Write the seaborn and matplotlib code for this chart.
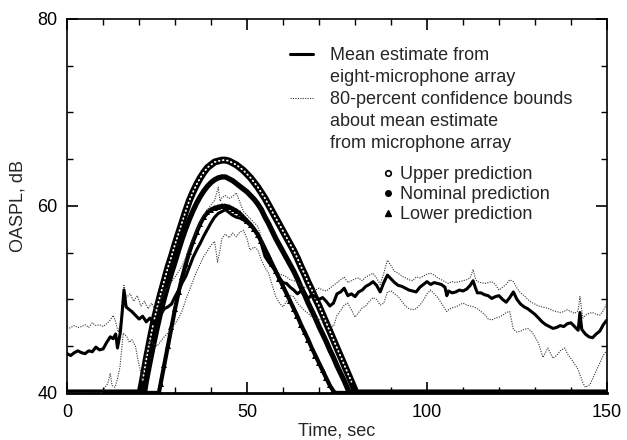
import numpy as np
import pandas as pd
import matplotlib
matplotlib.use('Agg')
import matplotlib.pyplot as plt
from matplotlib.lines import Line2D
from matplotlib.ticker import MultipleLocator
import seaborn as sns

sns.set_style("ticks")
plt.rcParams['font.family'] = ['Liberation Sans', 'DejaVu Sans']

# (time sec, OASPL dB)
mean_pts = [(0, 44.2), (1, 44.0), (2, 44.3), (3, 44.5), (4, 44.3), (5, 44.2), (6, 44.5), (7, 44.4),
            (8, 44.9), (9, 44.6), (10, 44.7), (11, 45.4), (12, 46.0), (12.8, 45.8), (13.5, 46.3),
            (14, 44.8), (14.8, 46.5), (15.3, 48.6), (15.8, 51.0), (16.4, 49.2), (17, 49.0), (18, 48.7),
            (19, 48.3), (20, 47.9), (21, 48.2), (22, 47.6), (23, 48.0), (24, 47.5), (25, 47.9),
            (26, 48.4), (27, 49.0), (28, 49.2), (29, 49.5), (30, 50.3), (31, 51.0), (32, 51.8),
            (33, 52.5), (34, 53.5), (35, 54.5), (36, 55.3), (37, 56.0), (38, 56.8), (39, 57.5),
            (40, 58.2), (41, 58.8), (42, 59.2), (43, 59.4), (44, 59.6), (45, 59.3), (46, 59.0),
            (47, 58.8), (48, 58.7), (49, 58.5), (50, 58.2), (51, 57.9), (52, 57.5), (53, 57.0),
            (54, 55.9), (55, 54.6), (56, 54.0), (57, 53.5), (58, 53.0), (59, 52.3), (60, 51.8),
            (61, 51.7), (62, 51.3), (63, 51.0), (64, 50.6), (65, 50.9), (66, 50.7), (67, 50.1),
            (68, 50.5), (69, 50.3), (70, 50.0), (71, 50.2), (72, 49.8), (73, 49.3), (74, 49.6),
            (75, 50.6), (76, 50.8), (77, 51.2), (78, 50.4), (79, 50.6), (80, 50.3), (81, 50.8),
            (82, 51.0), (83, 51.4), (84, 51.6), (85, 51.9), (86, 51.5), (87, 50.8), (88, 51.8),
            (89, 52.6), (90, 52.2), (91, 51.8), (92, 51.5), (93, 51.4), (94, 51.2), (95, 51.0),
            (96, 50.9), (97, 50.8), (98, 51.3), (99, 51.6), (100, 51.9), (101, 51.6), (102, 51.8),
            (103, 51.7), (104, 51.6), (105, 51.3), (105.5, 50.4), (106, 50.9), (107, 50.7),
            (108, 50.8), (109, 51.0), (110, 50.9), (111, 51.1), (112, 51.5), (112.8, 52.0),
            (113.5, 51.2), (114, 50.7), (115, 50.7), (116, 50.5), (117, 50.4), (118, 50.1),
            (119, 50.3), (120, 50.4), (121, 50.0), (122, 49.7), (123, 50.2), (124, 50.8), (125, 50.0),
            (126, 49.5), (127, 49.2), (128, 49.0), (129, 48.7), (130, 48.4), (131, 48.0), (132, 47.6),
            (133, 47.3), (134, 47.1), (135, 46.9), (136, 47.0), (137, 47.2), (138, 47.1), (139, 47.4),
            (140, 47.5), (141, 47.1), (142, 46.7), (142.5, 48.6), (143, 46.8), (144, 46.3),
            (145, 46.0), (146, 45.9), (147, 46.3), (148, 46.6), (149, 47.3), (150, 47.8)]

upper_bound_pts = [(0, 46.8), (1, 47.0), (2, 47.2), (3, 47.0), (4, 47.1), (5, 47.3), (6, 47.0), (7, 47.5),
                   (8, 47.2), (9, 47.3), (10, 47.1), (11, 47.4), (12, 47.8), (12.8, 48.3), (13.5, 47.6),
                   (14.2, 46.5), (15, 47.8), (15.8, 51.5), (16.5, 50.2), (17.5, 50.6), (18.5, 49.8),
                   (19.5, 50.4), (20.5, 49.3), (21.5, 49.8), (22.5, 49.0), (23.5, 49.6), (24.5, 48.8),
                   (25.5, 49.5), (27, 50.8), (28, 51.3), (29, 51.9), (30, 52.4), (31, 53.0), (32, 53.6),
                   (33, 54.5), (34, 55.6), (35, 56.5), (36, 57.4), (37, 58.3), (38, 59.0), (39, 59.6),
                   (40, 60.1), (41, 60.6), (42, 62.0), (42.5, 60.5), (43, 60.9), (44, 61.1), (45, 60.8),
                   (46, 61.0), (47, 61.4), (48, 60.4), (49, 59.4), (50, 59.0), (51, 58.6), (52, 58.2),
                   (53, 57.8), (54, 56.6), (55, 55.0), (56, 54.0), (57, 53.5), (58, 53.0), (59, 52.7),
                   (60, 52.6), (61, 52.4), (62, 52.1), (63, 52.0), (64, 51.8), (65, 51.5), (66, 51.3),
                   (67, 51.2), (68, 51.1), (69, 51.0), (70, 51.2), (71, 51.0), (72, 50.9), (73, 51.2),
                   (74, 51.5), (75, 51.8), (76, 52.1), (77, 52.4), (78, 51.8), (79, 52.0), (80, 52.2),
                   (81, 52.3), (82, 52.0), (83, 52.4), (84, 52.6), (85, 52.8), (86, 52.3), (87, 51.6),
                   (88, 52.8), (89, 54.2), (90, 53.6), (91, 53.0), (92, 52.8), (93, 52.5), (94, 52.3),
                   (95, 52.1), (96, 52.0), (97, 52.4), (98, 52.3), (99, 52.5), (100, 52.7), (101, 52.8),
                   (102, 52.6), (103, 52.3), (104, 52.1), (105, 51.9), (106, 51.7), (107, 51.9),
                   (108, 51.8), (109, 51.9), (110, 52.0), (111, 52.1), (112, 52.3), (112.8, 53.2),
                   (113.5, 52.2), (114, 51.9), (115, 51.8), (116, 51.7), (117, 51.8), (118, 51.9),
                   (119, 51.6), (120, 51.0), (121, 51.3), (122, 51.6), (123, 52.1), (124, 51.9),
                   (125, 51.2), (126, 50.7), (127, 50.4), (128, 50.0), (129, 49.7), (130, 49.5),
                   (131, 49.3), (132, 49.2), (133, 49.1), (134, 49.0), (135, 48.8), (136, 48.7),
                   (137, 48.6), (138, 48.7), (139, 48.9), (140, 48.7), (141, 48.5), (142, 48.8),
                   (142.5, 50.3), (143.3, 48.0), (144, 48.3), (145, 48.5), (146, 48.6), (147, 48.4),
                   (148, 48.3), (149, 48.8), (150, 49.6)]

lower_bound_pts = [(0, 40.0), (9.5, 40.0), (10.5, 40.6), (11.3, 41.0), (12, 42.1), (12.5, 40.8),
                   (13.3, 40.6), (14, 41.5), (14.7, 42.8), (15.6, 46.4), (16.6, 46.0), (17.3, 45.4),
                   (18, 45.7), (19, 45.0), (19.7, 43.5), (20.3, 42.5), (20.8, 41.2), (21.7, 43.8),
                   (22.5, 44.8), (23, 45.7), (24, 45.2), (25, 45.0), (26, 45.5), (27, 46.0), (28, 46.4),
                   (29, 46.9), (30, 47.4), (31, 48.0), (32, 48.8), (33, 50.0), (34, 51.0), (35, 52.0),
                   (36, 53.0), (37, 53.8), (38, 54.6), (39, 55.2), (40, 55.8), (41, 56.2), (41.8, 54.0),
                   (42.5, 55.3), (43, 56.5), (44, 57.0), (45, 56.6), (46, 57.1), (47, 56.7), (48, 57.2),
                   (49, 57.4), (50, 56.5), (50.8, 55.3), (52, 55.6), (53, 55.3), (54, 54.2), (55, 53.4),
                   (56, 52.8), (57, 51.5), (58, 50.3), (59, 49.6), (60, 49.2), (61, 49.8), (62, 50.4),
                   (63, 50.3), (64, 49.6), (65, 49.2), (66, 48.8), (67, 48.5), (68, 48.1), (69, 48.0),
                   (70, 47.9), (71, 47.8), (72, 47.6), (73, 47.3), (74, 47.1), (75, 48.3), (76, 48.8),
                   (77, 49.4), (78, 49.6), (79, 48.9), (80, 48.1), (81, 48.6), (82, 49.1), (83, 49.3),
                   (84, 49.8), (85, 50.2), (86, 50.0), (87, 49.4), (88, 49.6), (89, 50.8), (90, 50.9),
                   (91, 50.6), (92, 50.3), (93, 49.8), (94, 49.3), (95, 49.0), (96, 48.9), (97, 49.0),
                   (98, 49.4), (99, 49.9), (100, 50.6), (101, 51.0), (102, 50.6), (103, 50.2), (104, 49.6),
                   (105, 49.0), (105.5, 48.7), (106, 48.9), (107, 49.1), (108, 49.2), (109, 49.4),
                   (110, 49.6), (111, 49.4), (112, 49.3), (113, 49.2), (114, 49.0), (115, 48.7),
                   (116, 48.4), (117, 47.9), (118, 47.8), (119, 48.0), (120, 48.1), (121, 48.3),
                   (122, 48.6), (123, 48.7), (124, 46.8), (125, 46.5), (126, 46.6), (127, 46.8),
                   (128, 46.9), (129, 46.6), (130, 46.0), (131, 45.3), (132.2, 43.8), (133.6, 44.8),
                   (135, 43.7), (136, 44.0), (137, 44.5), (138.3, 44.8), (139, 44.2), (140.3, 43.5),
                   (141, 43.1), (142, 42.5), (143.3, 41.1), (144, 40.6), (145.3, 40.9), (146, 41.5),
                   (147.2, 42.5), (148, 43.2), (149, 44.0), (150, 44.6)]

upper_pred_pts = [(0, 40), (20.3, 40), (21, 41.4), (22, 43.6), (23, 45.6), (24, 47.5), (25, 49.1),
                  (26, 50.6), (27, 52.0), (28, 53.4), (29, 54.6), (30, 55.9), (31, 57.1), (32, 58.3),
                  (33, 59.5), (34, 60.6), (35, 61.5), (36, 62.3), (37, 63.0), (38, 63.6), (39, 64.1),
                  (40, 64.4), (41, 64.7), (42, 64.8), (43, 64.9), (44, 64.9), (45, 64.8), (46, 64.6),
                  (47, 64.4), (48, 64.1), (49, 63.8), (50, 63.4), (51, 63.0), (52, 62.5), (53, 62.0),
                  (54, 61.4), (55, 60.8), (56, 60.1), (57, 59.4), (58, 58.7), (59, 58.0), (60, 57.3),
                  (61, 56.6), (62, 55.9), (63, 55.2), (64, 54.4), (65, 53.5), (66, 52.7), (67, 51.8),
                  (68, 51.0), (69, 50.1), (70, 49.3), (71, 48.4), (72, 47.5), (73, 46.6), (74, 45.7),
                  (75, 44.8), (76, 43.9), (77, 43.0), (78, 42.1), (79, 41.2), (80.3, 40), (150, 40)]

nominal_pred_pts = [(0, 40), (21.5, 40), (22, 41.2), (23, 43.2), (24, 45.1), (25, 46.9), (26, 48.6),
                    (27, 50.1), (28, 51.5), (29, 52.8), (30, 54.0), (31, 55.3), (32, 56.5), (33, 57.6),
                    (34, 58.6), (35, 59.5), (36, 60.3), (37, 61.0), (38, 61.6), (39, 62.1), (40, 62.5),
                    (41, 62.8), (42, 63.0), (43, 63.1), (44, 63.1), (45, 62.9), (46, 62.7), (47, 62.4),
                    (48, 62.1), (49, 61.8), (50, 61.5), (51, 61.1), (52, 60.7), (53, 60.2), (54, 59.6),
                    (55, 58.8), (56, 58.1), (57, 57.3), (58, 56.5), (59, 55.8), (60, 55.1), (61, 54.4),
                    (62, 53.7), (63, 53.0), (64, 52.2), (65, 51.3), (66, 50.5), (67, 49.6), (68, 48.8),
                    (69, 48.0), (70, 47.1), (71, 46.3), (72, 45.5), (73, 44.6), (74, 43.8), (75, 42.9),
                    (76, 42.1), (77, 41.3), (78, 40.4), (78.5, 40), (150, 40)]

lower_pred_pts = [(0, 40), (25.5, 40), (26, 41.0), (27, 43.0), (28, 45.0), (29, 47.0), (30, 49.0),
                  (31, 50.8), (32, 52.4), (33, 53.8), (34, 55.1), (35, 56.2), (36, 57.2), (37, 58.1),
                  (38, 58.8), (39, 59.3), (40, 59.6), (41, 59.8), (42, 59.9), (43, 60.0), (44, 60.0),
                  (45, 59.9), (46, 59.7), (47, 59.5), (48, 59.2), (49, 58.8), (50, 58.4), (51, 58.0),
                  (52, 57.5), (53, 56.9), (54, 56.2), (55, 55.4), (56, 54.6), (57, 53.8), (58, 53.0),
                  (59, 52.2), (60, 51.4), (61, 50.6), (62, 49.8), (63, 49.0), (64, 48.2), (65, 47.3),
                  (66, 46.5), (67, 45.7), (68, 44.8), (69, 44.0), (70, 43.2), (71, 42.4), (72, 41.6),
                  (73, 40.8), (74, 40.2), (74.5, 40), (150, 40)]

x_ticks = [0, 50, 100, 150]
y_ticks = [40, 60, 80]

legend_lines = ["Mean estimate from", "eight-microphone array", "80-percent confidence bounds",
                "about mean estimate", "from microphone array"]
legend_preds = ["Upper prediction", "Nominal prediction", "Lower prediction"]


def frame(pts):
    return pd.DataFrame(pts, columns=["time", "oaspl"])


mean_df = frame(mean_pts)
ub_df = frame(upper_bound_pts)
lb_df = frame(lower_bound_pts)
up_df = frame(upper_pred_pts)
nom_df = frame(nominal_pred_pts)
low_df = frame(lower_pred_pts)

fig = plt.figure(figsize=(6.27, 4.40), dpi=100)
ax = fig.add_axes([0.107, 0.107, 0.861, 0.850])

kw = dict(x="time", y="oaspl", ax=ax, estimator=None, sort=False, legend=False)

# predictions (band-like, markers packed along the curve)
sns.lineplot(data=up_df, color="black", linewidth=5.0, zorder=3, **kw)
sns.lineplot(data=up_df[up_df.oaspl > 40], color="white", linewidth=1.3,
             linestyle=(0, (0.4, 1.9)), dash_capstyle="round", zorder=4, **kw)
sns.lineplot(data=nom_df, color="black", linewidth=3.8, zorder=3, **kw)
sns.lineplot(data=low_df, color="black", linewidth=3.0, zorder=3, **kw)
sns.lineplot(data=low_df[low_df.oaspl > 40], color="black", linewidth=0, marker="^",
             markersize=4.0, markeredgewidth=0, zorder=3, **kw)

# measurements
sns.lineplot(data=ub_df, color="#333333", linewidth=0.8, linestyle=(0, (1, 1.2)), zorder=5, **kw)
sns.lineplot(data=lb_df, color="#333333", linewidth=0.8, linestyle=(0, (1, 1.2)), zorder=5, **kw)
sns.lineplot(data=mean_df, color="black", linewidth=2.2, zorder=6, **kw)

ax.set_xlim(0, 150)
ax.set_ylim(40, 80)
ax.set_xticks(x_ticks)
ax.set_yticks(y_ticks)
ax.xaxis.set_minor_locator(MultipleLocator(10))
ax.yaxis.set_minor_locator(MultipleLocator(5))
ax.tick_params(which="both", direction="in", top=True, right=True, colors="black",
               labelsize=13)
ax.tick_params(which="major", length=8, width=1.2)
ax.tick_params(which="minor", length=4.5, width=1.0)
ax.tick_params(axis="x", pad=8)
ax.tick_params(axis="y", pad=7)
for side in ["left", "right", "top"]:
    ax.spines[side].set_linewidth(1.2)
    ax.spines[side].set_color("black")
ax.spines["bottom"].set_linewidth(2.0)
ax.spines["bottom"].set_color("black")

ax.set_xlabel("Time, sec", fontsize=13, labelpad=1)
ax.set_ylabel("OASPL, dB", fontsize=13, labelpad=8)

blank = Line2D([], [], color="none")
h_mean = Line2D([], [], color="black", linewidth=2.2)
h_bound = Line2D([], [], color="#333333", linewidth=0.8, linestyle=(0, (1, 1.2)))
leg1 = ax.legend([h_mean, blank, h_bound, blank, blank], legend_lines,
                 loc="upper left", bbox_to_anchor=(0.413, 0.924), frameon=False, fontsize=13,
                 handlelength=1.28, handletextpad=0.94, borderpad=0, borderaxespad=0,
                 labelspacing=0.27)
ax.add_artist(leg1)

h_up = Line2D([], [], linestyle="none", marker="o", markersize=4, markerfacecolor="white",
              markeredgecolor="black", markeredgewidth=1.2)
h_nom = Line2D([], [], linestyle="none", marker="o", markersize=4, color="black")
h_low = Line2D([], [], linestyle="none", marker="^", markersize=4, color="black")
ax.legend([h_up, h_nom, h_low], legend_preds, loc="upper left", bbox_to_anchor=(0.584, 0.607),
          frameon=False, fontsize=13, handlelength=0.6, handletextpad=0.37, borderpad=0,
          borderaxespad=0, labelspacing=0.17)

fig.savefig("out.png", dpi=100)
